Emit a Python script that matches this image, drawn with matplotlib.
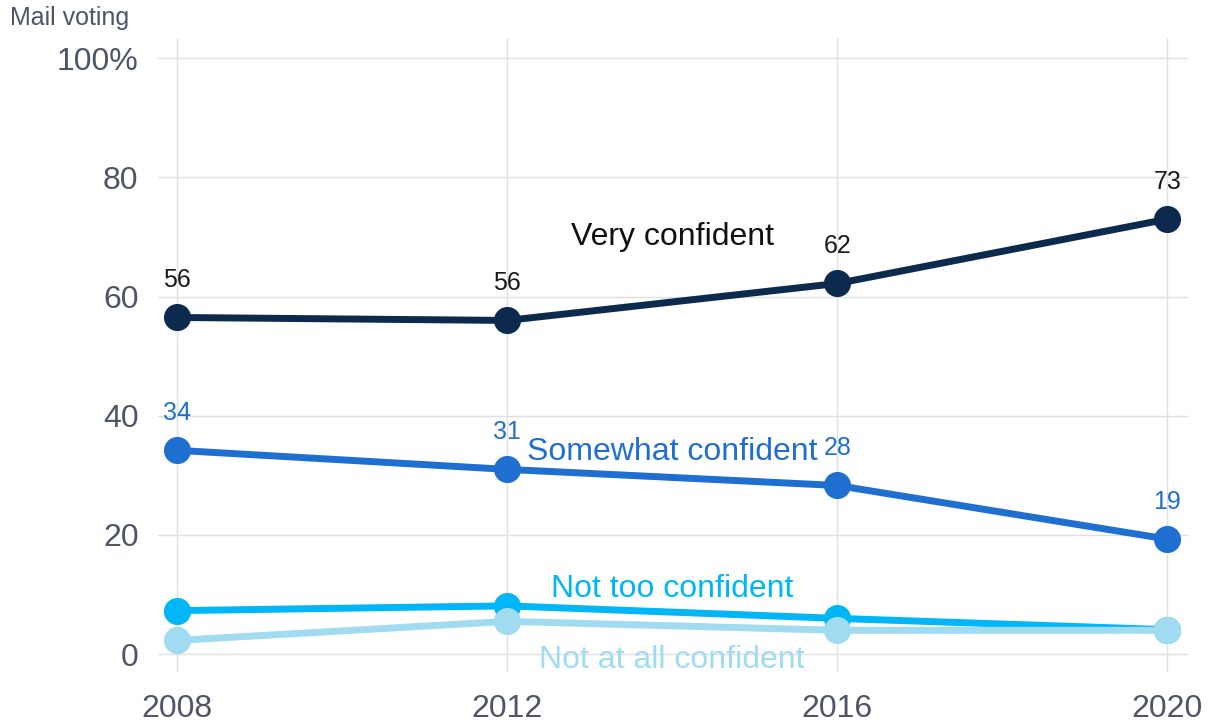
import matplotlib
matplotlib.use("Agg")
import matplotlib.pyplot as plt

plt.rcParams['font.family'] = ['Liberation Sans', 'DejaVu Sans']

years = [2008, 2012, 2016, 2020]
very = [56.5, 56, 62.2, 73]
somewhat = [34.2, 31, 28.3, 19.3]
not_too = [7.3, 8.1, 6.0, 4.1]
not_at_all = [2.3, 5.5, 4.0, 4.0]

very_lbl = ['56', '56', '62', '73']
some_lbl = ['34', '31', '28', '19']

series = [
    ('Very confident', very, '#0c2a4d', (2014, 70.0), '#111111'),
    ('Somewhat confident', somewhat, '#1f6fd1', (2014, 33.9), '#1f6fd1'),
    ('Not too confident', not_too, '#00b6f6', (2014, 10.9), '#00b6f6'),
    ('Not at all confident', not_at_all, '#a0dbf1', (2014, -1.0), '#a0dbf1'),
]

yticks = [0, 20, 40, 60, 80, 100]
ytick_lbl = ['0', '20', '40', '60', '80', '100%']

fig = plt.figure(figsize=(12.13, 7.25), dpi=100)
ax = fig.add_axes([0.1303, 0.0731, 0.8491, 0.8745])

for name, vals, col, pos, tcol in series:
    ax.plot(years, vals, color=col, lw=5, marker='o', ms=18.5,
            solid_capstyle='round', zorder=3)
    ax.text(pos[0], pos[1], name, color=tcol, fontsize=23,
            ha='center', va='center', zorder=4)

for x, v, s in zip(years, very, very_lbl):
    ax.annotate(s, (x, v), xytext=(0, 37), textcoords='offset pixels',
                ha='center', va='center', fontsize=18, color='#1a1a1a')
for x, v, s in zip(years, somewhat, some_lbl):
    ax.annotate(s, (x, v), xytext=(0, 37), textcoords='offset pixels',
                ha='center', va='center', fontsize=18, color='#1f6fd1')

ax.set_xlim(2007.77, 2020.25)
ax.set_ylim(-3.0, 103.4)
ax.set_xticks(years)
ax.set_yticks(yticks)
ax.set_yticklabels(ytick_lbl)
ax.grid(True, color='#e0e0e0', lw=1)
ax.set_axisbelow(True)
for sp in ax.spines.values():
    sp.set_visible(False)
ax.tick_params(length=0, labelsize=23, labelcolor='#4f5567')
ax.tick_params(axis='y', pad=14)
ax.tick_params(axis='x', pad=16)

fig.text(10 / 1213, 1 - 18 / 725, 'Mail voting', fontsize=18,
         color='#4f5567', va='center', ha='left')

fig.savefig('out.png', dpi=100)
